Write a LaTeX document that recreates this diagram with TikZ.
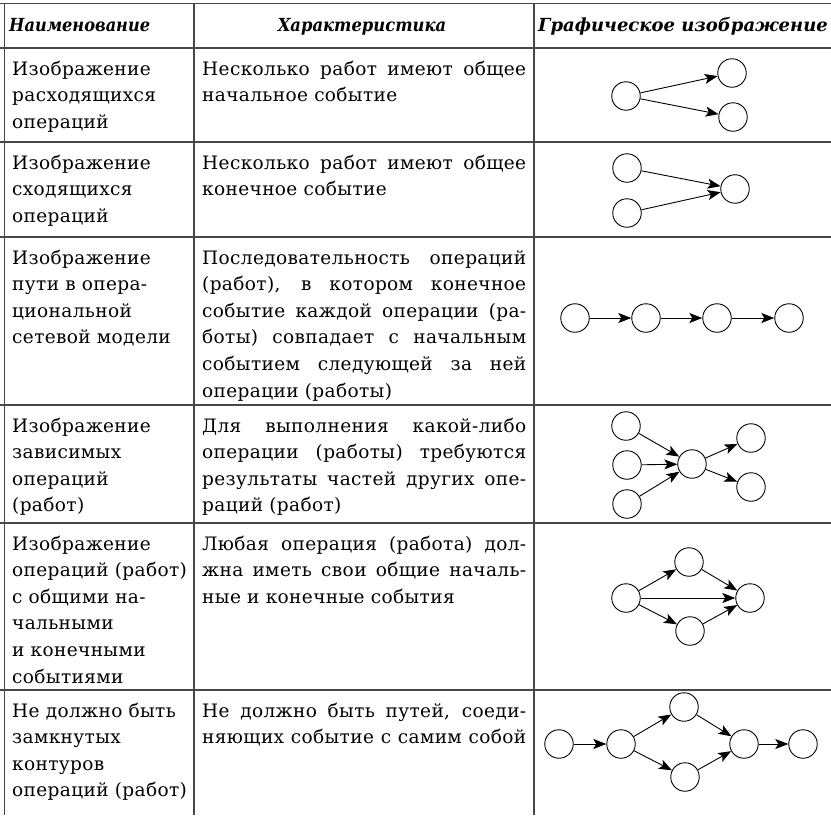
\documentclass[tikz,border=0pt]{standalone}
\usepackage{fontspec}
\setmainfont{DejaVu Serif}[LetterSpace=2]
\newfontfamily\hfam{DejaVu Serif}
\usetikzlibrary{arrows.meta}
\newcommand\bodyfont{\fontsize{18.5}{26.6}\selectfont}
\newcommand\headfont{\hfam\bfseries\itshape\fontsize{18}{20}\selectfont}
\tikzset{
 grid/.style={line width=1.1pt, draw=black!72},
 ev/.style={circle, draw, line width=0.9pt, minimum size=28.5pt, inner sep=0pt},
 arr/.style={line width=0.9pt, -{Stealth[length=13pt,width=10pt,inset=3pt]}},
 namecell/.style={anchor=base west, inner sep=0pt, text width=185pt, align=left, font=\bodyfont},
 jcell/.style={anchor=base west, inner sep=0pt, text width=324pt, align=justify, font=\bodyfont},
 head/.style={anchor=base, inner sep=0pt, font=\headfont}
}
\begin{document}
\begin{tikzpicture}[x=1pt,y=-1pt]
\useasboundingbox (0,0) rectangle (831,815);
% table grid
\foreach \yy in {3.5,48,142,237,405,523,690} \draw[grid] (0,\yy) -- (831,\yy);
\foreach \xx in {4.5,194,534} \draw[grid] (\xx,3.5) -- (\xx,815);
% header
\node[head, anchor=base west] (h1) at (9,31.5) {\scalebox{0.9}[1]{Наименование}};
\node[head] (h2) at (362,31.5) {\scalebox{0.91}[1]{Характеристика}};
\node[head] (h3) at (683,31.5) {Графическое изображение};
% first column
\node[namecell] (n1) at (12,75) {Изображение\\расходящихся\\операций};
\node[namecell] (n2) at (12,169) {Изображение\\сходящихся\\операций};
\node[namecell] (n3) at (12,264) {Изображение\\пути в опера-\\циональной\\сетевой модели};
\node[namecell] (n4) at (12,432) {Изображение\\зависимых\\операций\\(работ)};
\node[namecell] (n5) at (12,550) {Изображение\\операций (работ)\\с общими на-\\чальными\\и конечными\\событиями};
\node[namecell] (n6) at (12,717) {Не должно быть\\замкнутых\\контуров\\операций (работ)};
% second column
\node[jcell] (d1) at (202,75) {Несколько работ имеют общее\linebreak начальное событие};
\node[jcell] (d2) at (202,169) {Несколько работ имеют общее\linebreak конечное событие};
\node[jcell] (d3) at (202,264) {Последовательность операций\linebreak (работ), в котором конечное\linebreak событие каждой операции (ра-\linebreak боты) совпадает с начальным\linebreak событием следующей за ней\linebreak операции (работы)};
\node[jcell] (d4) at (202,432) {Для выполнения какой-либо\linebreak операции (работы) требуются\linebreak результаты частей других опе-\linebreak раций (работ)};
\node[jcell] (d5) at (202,550) {Любая операция (работа) дол-\linebreak жна иметь свои общие началь-\linebreak ные и конечные события};
\node[jcell] (d6) at (202,717) {Не должно быть путей, соеди-\linebreak няющих событие с самим собой\linebreak};
% graph 1: diverging
\node[ev] (a1) at (626,96) {};
\node[ev] (a2) at (732,73) {};
\node[ev] (a3) at (733,117) {};
\draw[arr] (a1) -- (a2);
\draw[arr] (a1) -- (a3);
% graph 2: converging
\node[ev] (b1) at (627,168) {};
\node[ev] (b2) at (627,213) {};
\node[ev] (b3) at (735,189) {};
\draw[arr] (b1) -- (b3);
\draw[arr] (b2) -- (b3);
% graph 3: path
\node[ev] (c1) at (575,318) {};
\node[ev] (c2) at (646,318) {};
\node[ev] (c3) at (717,318) {};
\node[ev] (c4) at (789,318) {};
\draw[arr] (c1) -- (c2);
\draw[arr] (c2) -- (c3);
\draw[arr] (c3) -- (c4);
% graph 4: dependent
\node[ev] (e1) at (626,426) {};
\node[ev] (e2) at (627,465) {};
\node[ev] (e3) at (627,504) {};
\node[ev] (e4) at (692,464) {};
\node[ev] (e5) at (751,438) {};
\node[ev] (e6) at (751,487) {};
\draw[arr] (e1) -- (e4);
\draw[arr] (e2) -- (e4);
\draw[arr] (e3) -- (e4);
\draw[arr] (e4) -- (e5);
\draw[arr] (e4) -- (e6);
% graph 5: common start and end
\node[ev] (f1) at (626,598) {};
\node[ev] (f2) at (689,562) {};
\node[ev] (f3) at (750,598) {};
\node[ev] (f4) at (690,631) {};
\draw[arr] (f1) -- (f2);
\draw[arr] (f1) -- (f3);
\draw[arr] (f1) -- (f4);
\draw[arr] (f2) -- (f3);
\draw[arr] (f4) -- (f3);
% graph 6: no loops
\node[ev] (g1) at (559,744) {};
\node[ev] (g2) at (621,744) {};
\node[ev] (g3) at (684,707) {};
\node[ev] (g4) at (685,777) {};
\node[ev] (g5) at (744,744) {};
\node[ev] (g6) at (803,744) {};
\draw[arr] (g1) -- (g2);
\draw[arr] (g2) -- (g3);
\draw[arr] (g2) -- (g4);
\draw[arr] (g3) -- (g5);
\draw[arr] (g4) -- (g5);
\draw[arr] (g5) -- (g6);
\end{tikzpicture}
\end{document}
